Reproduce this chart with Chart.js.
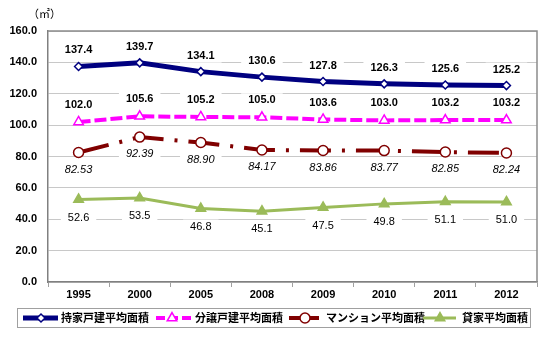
<!DOCTYPE html>
<html>
<head>
    <style>
        body, html {
            margin: 0;
            padding: 0;
            background: #fff;
        }
        #chart {
            display: block;
        }
    </style>
    <script src="https://cdn.jsdelivr.net/npm/chart.js"></script>
</head>
<body>
    <canvas id="chart" width="550" height="343"></canvas>

    <script>
        // data
        const years = ["1995", "2000", "2005", "2008", "2009", "2010", "2011", "2012"];
        const ownedHouse = [137.4, 139.7, 134.1, 130.6, 127.8, 126.3, 125.6, 125.2];
        const soldHouse = [102.0, 105.6, 105.2, 105.0, 103.6, 103.0, 103.2, 103.2];
        const condo = [82.53, 92.39, 88.90, 84.17, 83.86, 83.77, 82.85, 82.24];
        const rental = [52.6, 53.5, 46.8, 45.1, 47.5, 49.8, 51.1, 51.0];
        const seriesNames = ["持家戸建平均面積", "分譲戸建平均面積", "マンション平均面積", "貸家平均面積"];
        const yTicks = [0, 20, 40, 60, 80, 100, 120, 140, 160];

        const NAVY = "#000080";
        const MAGENTA = "#FF00FF";
        const MAROON = "#800000";
        const GREEN = "#9BBB59";
        const LATIN = "Arial, 'Liberation Sans', sans-serif";
        const CJK = "'Noto Sans CJK JP', sans-serif";

        // how each series' value labels are drawn: offset from the point, font, decimals
        const labelStyle = [
            { dy: -16, font: "bold 11px " + LATIN, digits: 1 },
            { dy: -17, font: "bold 11px " + LATIN, digits: 1 },
            { dy: 17, font: "italic 11px " + LATIN, digits: 2 },
            { dy: 18, font: "11px " + LATIN, digits: 1 }
        ];

        const valueLabels = {
            id: "valueLabels",
            beforeDatasetsDraw(chart) {
                const ctx = chart.ctx;
                ctx.save();
                ctx.textAlign = "center";
                ctx.textBaseline = "middle";
                chart.data.datasets.forEach((ds, i) => {
                    const st = labelStyle[i];
                    const meta = chart.getDatasetMeta(i);
                    ctx.font = st.font;
                    meta.data.forEach((pt, j) => {
                        const txt = ds.data[j].toFixed(st.digits);
                        const w = ctx.measureText(txt).width;
                        const y = pt.y + st.dy;
                        ctx.fillStyle = "#fff";
                        ctx.fillRect(pt.x - w / 2 - 7, y - 7, w + 14, 14);
                        ctx.fillStyle = "#000";
                        ctx.fillText(txt, pt.x, y);
                    });
                });
                ctx.restore();
            },
            afterDraw(chart) {
                const ctx = chart.ctx;
                const a = chart.chartArea;
                ctx.save();
                // plot frame top / right
                ctx.strokeStyle = "#8C8C8C";
                ctx.lineWidth = 1.5;
                ctx.beginPath();
                ctx.moveTo(a.left, a.top);
                ctx.lineTo(a.right, a.top);
                ctx.lineTo(a.right, a.bottom);
                ctx.stroke();

                // unit
                ctx.fillStyle = "#000";
                ctx.font = "11px " + CJK;
                ctx.textBaseline = "middle";
                ctx.textAlign = "left";
                ctx.fillText("（㎡）", 28, 14);

                // legend box
                ctx.strokeStyle = "#A0A0A0";
                ctx.lineWidth = 1;
                ctx.strokeRect(17.5, 308.5, 513, 19);

                const ly = 318;
                const items = [
                    { x0: 23, x1: 58, mx: 41, tx: 61, dash: [] },
                    { x0: 156, x1: 192, mx: 172, tx: 195, dash: [9, 4] },
                    { x0: 289, x1: 319, mx: 305, tx: 326, dash: [] },
                    { x0: 423, x1: 456, mx: 440, tx: 462, dash: [] }
                ];
                chart.data.datasets.forEach((ds, i) => {
                    const it = items[i];
                    ctx.save();
                    ctx.strokeStyle = ds.borderColor;
                    ctx.lineWidth = ds.borderWidth;
                    ctx.lineCap = "butt";
                    ctx.setLineDash(it.dash);
                    ctx.beginPath();
                    ctx.moveTo(it.x0, ly);
                    ctx.lineTo(it.x1, ly);
                    ctx.stroke();
                    ctx.setLineDash([]);
                    ctx.fillStyle = ds.pointBackgroundColor;
                    ctx.strokeStyle = ds.pointBorderColor;
                    ctx.lineWidth = ds.pointBorderWidth;
                    Chart.helpers.drawPoint(ctx, {
                        pointStyle: ds.pointStyle,
                        radius: ds.pointRadius,
                        borderWidth: ds.pointBorderWidth,
                        rotation: 0
                    }, it.mx, ly);
                    ctx.restore();
                    ctx.fillStyle = "#000";
                    ctx.font = "bold 11px " + CJK;
                    ctx.fillText(seriesNames[i], it.tx, ly);
                });
                ctx.restore();
            }
        };

        function series(name, values, color, width, dash, style, radius, fill) {
            return {
                label: name,
                data: values,
                borderColor: color,
                backgroundColor: color,
                borderWidth: width,
                borderDash: dash,
                borderCapStyle: "butt",
                pointStyle: style,
                pointRadius: radius,
                pointHoverRadius: radius,
                pointBorderWidth: 1.5,
                pointBorderColor: color,
                pointBackgroundColor: fill,
                tension: 0
            };
        }

        const chart = new Chart(document.getElementById("chart"), {
            type: "line",
            data: {
                labels: years,
                datasets: [
                    series(seriesNames[0], ownedHouse, NAVY, 5, [], "rectRot", 4, "#fff"),
                    series(seriesNames[1], soldHouse, MAGENTA, 4, [12, 4], "triangle", 5.5, "#fff"),
                    series(seriesNames[2], condo, MAROON, 4, [31, 11, 3, 11], "circle", 5, "#fff"),
                    series(seriesNames[3], rental, GREEN, 3, [], "triangle", 5.5, GREEN)
                ]
            },
            options: {
                responsive: false,
                animation: false,
                events: [],
                layout: { padding: { top: 31, right: 13, left: 0, bottom: 0 } },
                plugins: {
                    legend: { display: false },
                    tooltip: { enabled: false }
                },
                scales: {
                    x: {
                        offset: true,
                        afterFit: s => { s.height = 61; },
                        grid: {
                            offset: true,
                            drawOnChartArea: false,
                            tickLength: 5,
                            color: "#A0A0A0"
                        },
                        border: { color: "#808080", width: 1.5 },
                        ticks: {
                            color: "#000",
                            padding: 1,
                            font: { family: LATIN, size: 11, weight: "bold" }
                        }
                    },
                    y: {
                        min: 0,
                        max: 160,
                        afterFit: s => { s.width = 48; },
                        afterBuildTicks: s => { s.ticks = yTicks.map(v => ({ value: v })); },
                        grid: {
                            drawTicks: false,
                            color: "#C8C8C8",
                            lineWidth: 1
                        },
                        border: { color: "#808080", width: 1.5 },
                        ticks: {
                            color: "#000",
                            padding: 11,
                            font: { family: LATIN, size: 11, weight: "bold" },
                            callback: v => Number(v).toFixed(1)
                        }
                    }
                }
            },
            plugins: [valueLabels]
        });
    </script>
</body>
</html>
